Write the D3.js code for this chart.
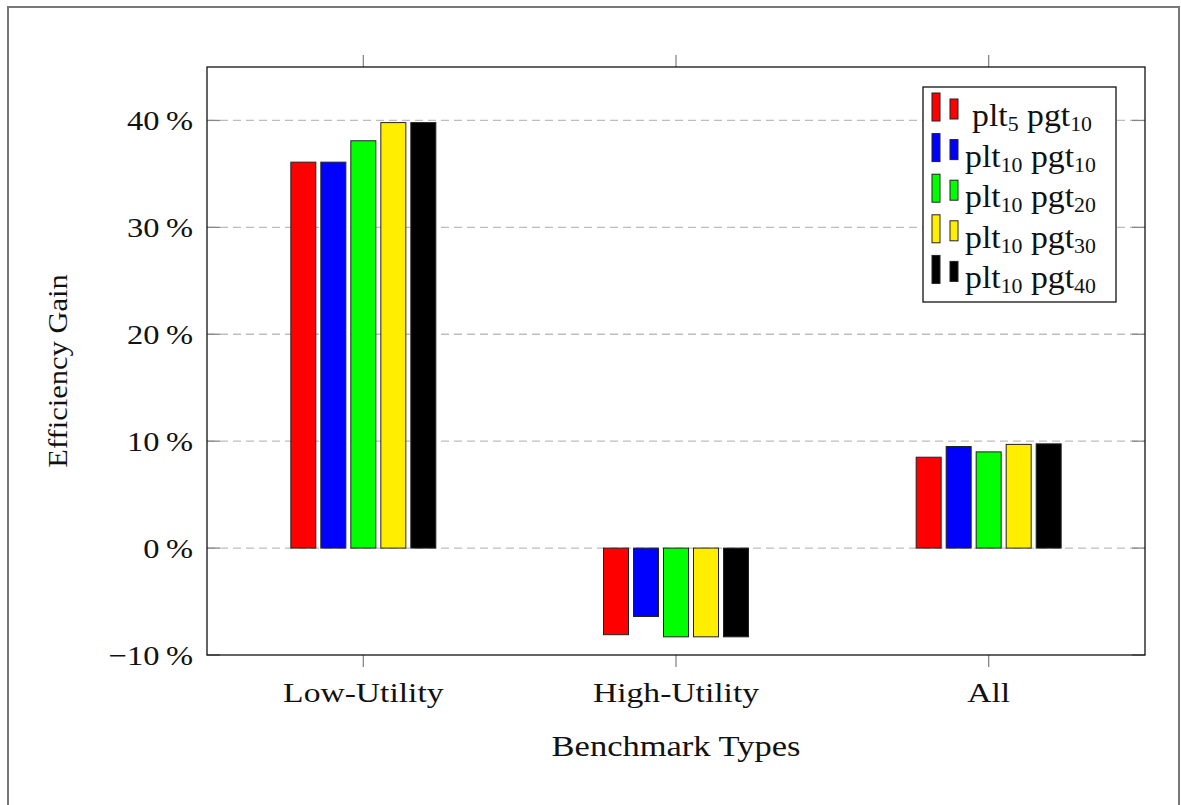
<!DOCTYPE html>
<html>
<head>
<meta charset="utf-8">
<script src="https://cdn.jsdelivr.net/npm/d3@7"></script>
<style>
  body { margin: 0; background: #fff; }
  svg { display: block; font-family: "Liberation Serif", "DejaVu Serif", serif; }
</style>
</head>
<body>
<svg id="chart" width="1181" height="805"></svg>
<script>
// Benchmark groups and configurations
const categories = ["Low-Utility", "High-Utility", "All"];
const seriesNames = [
  { plt: "5", pgt: "10" },
  { plt: "10", pgt: "10" },
  { plt: "10", pgt: "20" },
  { plt: "10", pgt: "30" },
  { plt: "10", pgt: "40" }
];
const seriesColors = ["#ff0000", "#0000ff", "#00ff00", "#ffee00", "#000000"];
// Efficiency gain (%) per configuration, in category order
const plt5pgt10  = [36.1, -8.1, 8.5];
const plt10pgt10 = [36.1, -6.4, 9.5];
const plt10pgt20 = [38.1, -8.3, 9.0];
const plt10pgt30 = [39.8, -8.3, 9.7];
const plt10pgt40 = [39.8, -8.3, 9.75];
const seriesValues = [plt5pgt10, plt10pgt10, plt10pgt20, plt10pgt30, plt10pgt40];
const yTicks = [-10, 0, 10, 20, 30, 40];

const svg = d3.select("#chart");
const plot = { left: 207, top: 67, right: 1145, bottom: 655 };

// Horizontal text placed at (x, y) and widened a little, serif style
function label(g, x, y, str, size, sx, anchor) {
  return g.append("text")
    .attr("transform", `translate(${x},${y}) scale(${sx},1)`)
    .attr("text-anchor", anchor || "start")
    .attr("font-size", size).attr("fill", "#111")
    .text(str);
}

// Outer page frame
svg.append("path")
  .attr("d", "M8,806 V7 H1179 V806")
  .attr("fill", "none").attr("stroke", "#777").attr("stroke-width", 2);

const x = d3.scaleBand().domain(categories).range([plot.left, plot.right]).padding(0);
const y = d3.scaleLinear().domain([-10, 45]).range([plot.bottom, plot.top]);

// Dashed grid lines
svg.append("g").selectAll("line").data(yTicks.filter(t => t > -10)).join("line")
  .attr("x1", plot.left).attr("x2", plot.right)
  .attr("y1", d => y(d)).attr("y2", d => y(d))
  .attr("stroke", "#bdbdbd").attr("stroke-width", 1.3).attr("stroke-dasharray", "8,5");

// Bars
const barW = 25, barStep = 30;
const nS = seriesValues.length;
seriesValues.forEach((vals, si) => {
  svg.append("g").selectAll("rect").data(vals).join("rect")
    .attr("x", (d, i) => x(categories[i]) + x.bandwidth() / 2 + (si - (nS - 1) / 2) * barStep - barW / 2)
    .attr("y", d => y(Math.max(0, d)))
    .attr("width", barW)
    .attr("height", d => Math.abs(y(d) - y(0)))
    .attr("fill", seriesColors[si])
    .attr("stroke", "#222").attr("stroke-width", 1);
});

// Axis ticks: left/right inward, top/bottom outward
const tickG = svg.append("g").attr("stroke", "#888").attr("stroke-width", 1.3);
yTicks.forEach(t => {
  tickG.append("line").attr("x1", plot.left).attr("x2", plot.left + 13).attr("y1", y(t)).attr("y2", y(t));
  tickG.append("line").attr("x1", plot.right).attr("x2", plot.right - 13).attr("y1", y(t)).attr("y2", y(t));
});
categories.forEach(c => {
  const cx = x(c) + x.bandwidth() / 2;
  tickG.append("line").attr("x1", cx).attr("x2", cx).attr("y1", plot.top).attr("y2", plot.top - 12);
  tickG.append("line").attr("x1", cx).attr("x2", cx).attr("y1", plot.bottom).attr("y2", plot.bottom + 12);
});

// Plot frame
svg.append("rect")
  .attr("x", plot.left).attr("y", plot.top)
  .attr("width", plot.right - plot.left).attr("height", plot.bottom - plot.top)
  .attr("fill", "none").attr("stroke", "#111").attr("stroke-width", 1.3);

// Y tick labels
const yl = svg.append("g");
yTicks.forEach(t => {
  label(yl, 193, y(t) + 10, (t < 0 ? "\u2212" + Math.abs(t) : t) + "\u2009%", 28, 1.16, "end");
});

// X tick labels
const xl = svg.append("g");
categories.forEach(c => label(xl, x(c) + x.bandwidth() / 2, 702, c, 28, 1.2, "middle"));

// Axis titles
label(svg, 676, 756, "Benchmark Types", 30, 1.15, "middle");
svg.append("text").attr("transform", "translate(67,371) rotate(-90) scale(1.09,1)")
  .attr("text-anchor", "middle").attr("font-size", 28).attr("fill", "#111")
  .text("Efficiency Gain");

// Legend
const lg = svg.append("g");
lg.append("rect").attr("x", 923).attr("y", 87).attr("width", 193).attr("height", 215)
  .attr("fill", "#fff").attr("stroke", "#111").attr("stroke-width", 1.3);
seriesNames.forEach((s, i) => {
  const base = 126 + i * 40.6;
  lg.append("rect").attr("x", 932).attr("y", base - 33).attr("width", 8).attr("height", 28)
    .attr("fill", seriesColors[i]).attr("stroke", "#222").attr("stroke-width", 1);
  lg.append("rect").attr("x", 950).attr("y", base - 27).attr("width", 8).attr("height", 20)
    .attr("fill", seriesColors[i]).attr("stroke", "#222").attr("stroke-width", 1);
  const t = lg.append("text")
    .attr("transform", `translate(${i === 0 ? 972 : 965},${base}) scale(1.09,1)`)
    .attr("font-size", 31).attr("fill", "#111");
  t.append("tspan").text("plt");
  t.append("tspan").attr("font-size", 20).attr("dy", 5).text(s.plt);
  t.append("tspan").attr("dy", -5).text(" pgt");
  t.append("tspan").attr("font-size", 20).attr("dy", 5).text(s.pgt);
});
</script>
</body>
</html>
